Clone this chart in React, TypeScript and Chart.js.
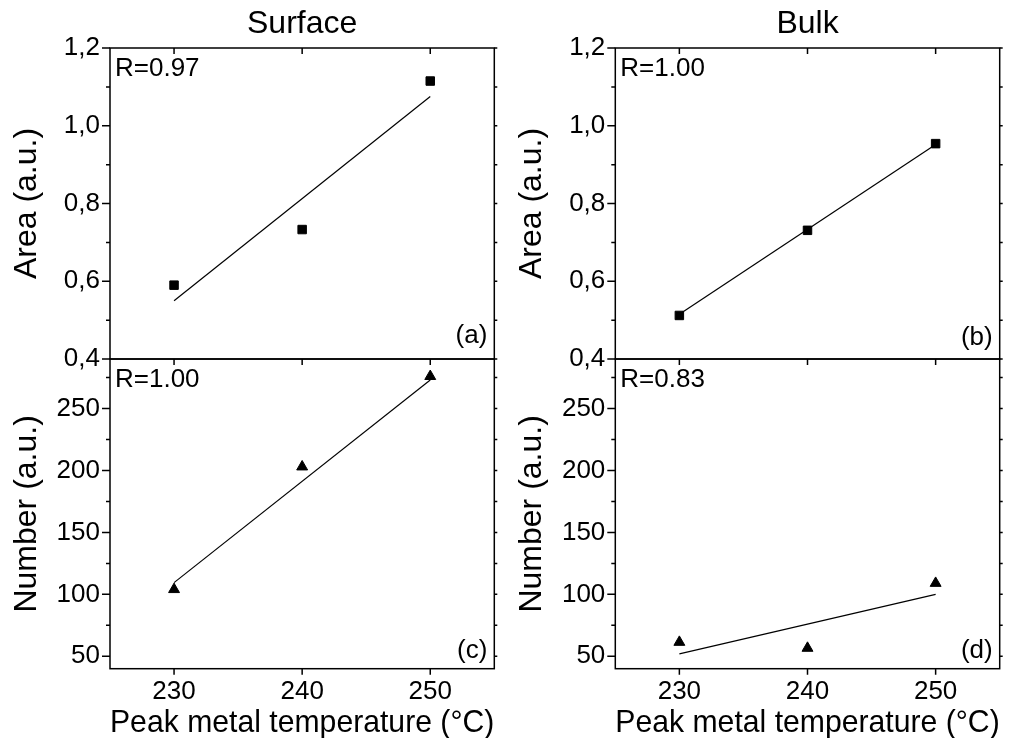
import React, { useEffect, useRef } from 'react';
import { Chart, registerables } from 'chart.js';

Chart.register(...registerables);

// ---- data ----
const temps = [230, 240, 250];
const fitTemps = [230, 250];
const xTicks = [230, 240, 250];
const xTickLabels = ['230', '240', '250'];

const areaTicks = [0.4, 0.6, 0.8, 1.0, 1.2];
const areaTickLabels = ['0,4', '0,6', '0,8', '1,0', '1,2'];
const areaMinor = [0.5, 0.7, 0.9, 1.1];

const numberTicks = [50, 100, 150, 200, 250];
const numberTickLabels = ['50', '100', '150', '200', '250'];
const numberMinor = [75, 125, 175, 225, 275];

const surfaceArea = [0.59, 0.733, 1.115];
const surfaceAreaFit = [0.55, 1.075];
const bulkArea = [0.512, 0.731, 0.954];
const bulkAreaFit = [0.515, 0.952];
const surfaceNumber = [104, 203, 276];
const surfaceNumberFit = [109.5, 273];
const bulkNumber = [61.4, 56.6, 109];
const bulkNumberFit = [52, 100];

const columnTitles = ['Surface', 'Bulk'];
const rValues = ['R=0.97', 'R=1.00', 'R=1.00', 'R=0.83'];
const panelLetters = ['(a)', '(b)', '(c)', '(d)'];
const xTitle = 'Peak metal temperature (°C)';
const areaTitle = 'Area (a.u.)';
const numberTitle = 'Number (a.u.)';

const FONT = '"Liberation Sans", Arial, Helvetica, sans-serif';
const W = 1017;
const H = 738;

type PanelCfg = {
  colTitle: string | null;
  yTitle: string;
  yMin: number;
  yMax: number;
  ticks: number[];
  tickLabels: string[];
  minor: number[];
  points: number[];
  fit: number[];
  marker: string;
  rText: string;
  letter: string;
  letterDy: number;
  pad: { left: number; top: number; right: number; bottom: number };
  bottomAxis: boolean;
};

const LEFT_PAD = 0;
const RIGHT_COL_PAD = 505.3;
const SPLIT = 359;
const PLOT_BOTTOM = 668.7;

const panels: PanelCfg[] = [
  {
    colTitle: columnTitles[0], yTitle: areaTitle, yMin: 0.4, yMax: 1.2,
    ticks: areaTicks, tickLabels: areaTickLabels, minor: areaMinor,
    points: surfaceArea, fit: surfaceAreaFit, marker: 'rect',
    rText: rValues[0], letter: panelLetters[0], letterDy: 15.7,
    pad: { left: LEFT_PAD, top: 0, right: W - 494.3, bottom: H - SPLIT },
    bottomAxis: false,
  },
  {
    colTitle: columnTitles[1], yTitle: areaTitle, yMin: 0.4, yMax: 1.2,
    ticks: areaTicks, tickLabels: areaTickLabels, minor: areaMinor,
    points: bulkArea, fit: bulkAreaFit, marker: 'rect',
    rText: rValues[1], letter: panelLetters[1], letterDy: 14,
    pad: { left: RIGHT_COL_PAD, top: 0, right: W - 999.7, bottom: H - SPLIT },
    bottomAxis: false,
  },
  {
    colTitle: null, yTitle: numberTitle, yMin: 40, yMax: 290,
    ticks: numberTicks, tickLabels: numberTickLabels, minor: numberMinor,
    points: surfaceNumber, fit: surfaceNumberFit, marker: 'triangle',
    rText: rValues[2], letter: panelLetters[2], letterDy: 10.4,
    pad: { left: LEFT_PAD, top: SPLIT, right: W - 494.3, bottom: 0 },
    bottomAxis: true,
  },
  {
    colTitle: null, yTitle: numberTitle, yMin: 40, yMax: 290,
    ticks: numberTicks, tickLabels: numberTickLabels, minor: numberMinor,
    points: bulkNumber, fit: bulkNumberFit, marker: 'triangle',
    rText: rValues[3], letter: panelLetters[3], letterDy: 10.4,
    pad: { left: RIGHT_COL_PAD, top: SPLIT, right: W - 999.7, bottom: 0 },
    bottomAxis: true,
  },
];

const framePlugin = {
  id: 'frameTicks',
  afterDraw(chart: any, _args: any, opts: any) {
    const cfg: PanelCfg = opts.cfg;
    const { ctx, chartArea } = chart;
    const { left, right, top, bottom } = chartArea;
    const xs = chart.scales.x;
    const ys = chart.scales.y;
    ctx.save();
    ctx.strokeStyle = '#000';
    ctx.lineWidth = 1.5;
    ctx.strokeRect(left, top, right - left, bottom - top);
    ctx.beginPath();
    cfg.ticks.forEach((v) => {
      const py = ys.getPixelForValue(v);
      ctx.moveTo(left - 8, py); ctx.lineTo(left, py);
      ctx.moveTo(right, py); ctx.lineTo(right + 3, py);
    });
    cfg.minor.forEach((v) => {
      const py = ys.getPixelForValue(v);
      ctx.moveTo(left - 4, py); ctx.lineTo(left, py);
      ctx.moveTo(right, py); ctx.lineTo(right + 3, py);
    });
    xTicks.forEach((v) => {
      const px = xs.getPixelForValue(v);
      ctx.moveTo(px, top); ctx.lineTo(px, top + 6);
      if (cfg.bottomAxis) { ctx.moveTo(px, bottom); ctx.lineTo(px, bottom + 6); }
    });
    ctx.stroke();
    ctx.fillStyle = '#000';
    ctx.font = `26px ${FONT}`;
    ctx.textBaseline = 'alphabetic';
    ctx.textAlign = 'left';
    ctx.fillText(cfg.rText, left + 5, top + 28);
    ctx.textAlign = 'right';
    ctx.fillText(cfg.letter, right - 7, bottom - cfg.letterDy);
    ctx.restore();
  },
};

function Panel({ cfg }: { cfg: PanelCfg }) {
  const ref = useRef<HTMLCanvasElement | null>(null);
  useEffect(() => {
    if (!ref.current) return;
    const chart = new Chart(ref.current, {
      type: 'scatter',
      data: {
        datasets: [
          {
            data: temps.map((t, i) => ({ x: t, y: cfg.points[i] })),
            showLine: false,
            pointStyle: cfg.marker as any,
            pointRadius: cfg.marker === 'rect' ? 6 : 6.3,
            pointBackgroundColor: '#000',
            pointBorderColor: '#000',
            pointBorderWidth: 1,
          },
          {
            data: fitTemps.map((t, i) => ({ x: t, y: cfg.fit[i] })),
            showLine: true,
            borderColor: '#000',
            borderWidth: 1.2,
            pointRadius: 0,
          },
        ],
      },
      options: {
        animation: false,
        responsive: false,
        devicePixelRatio: 1,
        events: [],
        layout: { padding: cfg.pad },
        plugins: {
          legend: { display: false },
          tooltip: { enabled: false },
          title: { display: false },
          frameTicks: { cfg },
        } as any,
        scales: {
          x: {
            type: 'linear',
            position: 'bottom',
            min: 225,
            max: 255,
            display: cfg.bottomAxis,
            afterBuildTicks: (s: any) => { s.ticks = xTicks.map((v) => ({ value: v })); },
            afterFit: (s: any) => { s.height = cfg.bottomAxis ? H - PLOT_BOTTOM : 0; },
            grid: { display: false, drawTicks: false },
            border: { display: false },
            ticks: {
              padding: 8,
              color: '#000',
              font: { family: FONT, size: 26 },
              maxRotation: 0,
              autoSkip: false,
              callback: (v: any) => xTickLabels[xTicks.indexOf(Number(v))],
            },
            title: {
              display: true,
              text: xTitle,
              color: '#000',
              font: { family: FONT, size: 32 },
              padding: { top: 0, bottom: -4 },
            },
          },
          xTop: {
            type: 'linear',
            axis: 'x',
            position: 'top',
            min: 225,
            max: 255,
            display: cfg.colTitle !== null,
            afterFit: (s: any) => { s.height = cfg.colTitle !== null ? 48 : 0; },
            grid: { display: false, drawTicks: false },
            border: { display: false },
            ticks: { display: false },
            title: {
              display: true,
              text: cfg.colTitle || '',
              color: '#000',
              font: { family: FONT, size: 32 },
              padding: { top: 5, bottom: 0 },
            },
          },
          y: {
            type: 'linear',
            position: 'left',
            min: cfg.yMin,
            max: cfg.yMax,
            afterBuildTicks: (s: any) => { s.ticks = cfg.ticks.map((v) => ({ value: v })); },
            afterFit: (s: any) => { s.width = 110; },
            grid: { display: false, drawTicks: false },
            border: { display: false },
            ticks: {
              padding: 10,
              color: '#000',
              font: { family: FONT, size: 26 },
              autoSkip: false,
              callback: (v: any) => {
                const idx = cfg.ticks.findIndex((t) => Math.abs(t - Number(v)) < 1e-9);
                return idx >= 0 ? cfg.tickLabels[idx] : '';
              },
            },
            title: {
              display: true,
              text: cfg.yTitle,
              color: '#000',
              font: { family: FONT, size: 32 },
              padding: { top: 8, bottom: 0 },
            },
          },
        } as any,
      },
      plugins: [framePlugin],
    });
    return () => chart.destroy();
  }, [cfg]);
  return (
    <canvas
      ref={ref}
      width={W}
      height={H}
      style={{ position: 'absolute', left: 0, top: 0, width: W, height: H }}
    />
  );
}

export default function App() {
  return (
    <div style={{ position: 'fixed', left: 0, top: 0, width: W, height: H, background: '#fff', overflow: 'hidden' }}>
      {panels.map((p, i) => (
        <Panel key={i} cfg={p} />
      ))}
    </div>
  );
}
